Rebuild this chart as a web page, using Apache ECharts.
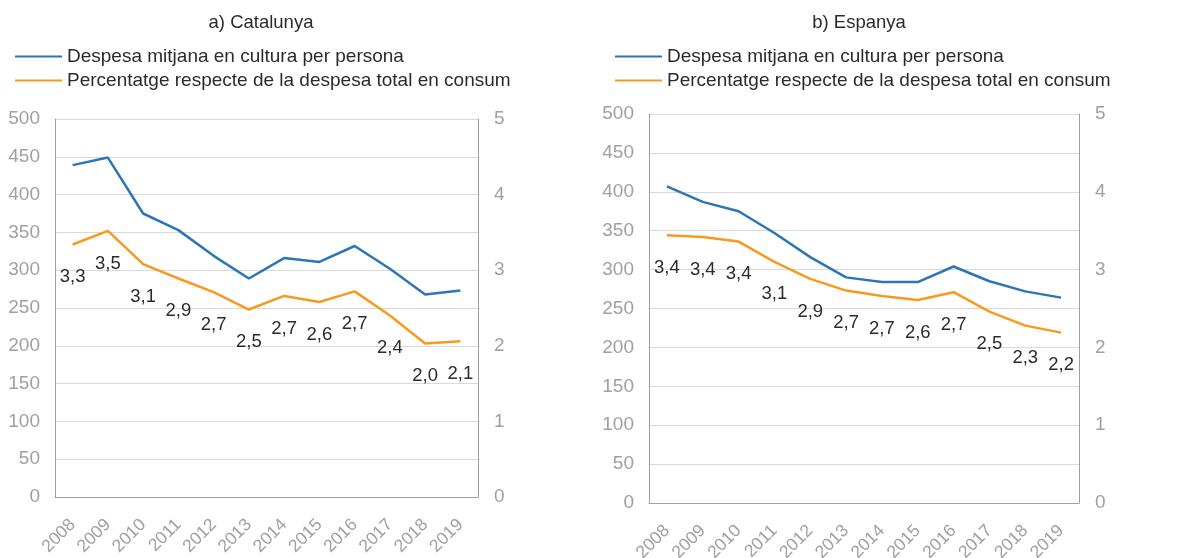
<!DOCTYPE html>
<html>
<head>
<meta charset="utf-8">
<script src="https://cdn.jsdelivr.net/npm/echarts@6/dist/echarts.min.js"></script>
<style>
  html, body { margin: 0; padding: 0; background: #fff; }
  #main { width: 1179px; height: 558px; }
</style>
</head>
<body>
<div id="main"></div>
<script>
var years = ["2008", "2009", "2010", "2011", "2012", "2013", "2014", "2015", "2016", "2017", "2018", "2019"];

// a) Catalunya
var catDespesa = [439, 449, 375, 353, 319, 289, 316, 311, 332, 302, 268, 273];
var catPercent = [3.34, 3.52, 3.08, 2.89, 2.71, 2.48, 2.66, 2.58, 2.72, 2.40, 2.03, 2.06];

// b) Espanya
var espDespesa = [407, 387, 375, 347, 316, 290, 284, 284, 304, 285, 272, 264];
var espPercent = [3.44, 3.42, 3.36, 3.10, 2.88, 2.73, 2.66, 2.61, 2.71, 2.46, 2.28, 2.19];

var nameDespesa = "Despesa mitjana en cultura per persona";
var namePercent = "Percentatge respecte de la despesa total en consum";

var FONT = "Liberation Sans, Arial, sans-serif";
var GREY = "#a0a0a0";
var BLUE = "#2e75b6";
var ORANGE = "#f79a1e";

function xAxisFor(gi) {
  return {
    type: "category",
    gridIndex: gi,
    data: years,
    boundaryGap: true,
    axisLine: { lineStyle: { color: GREY } },
    axisTick: { show: false },
    axisLabel: { rotate: 45, margin: 25, color: GREY, fontSize: 17.5, fontFamily: FONT, interval: 0 }
  };
}

function yAxesFor(gi) {
  return [
    {
      type: "value", gridIndex: gi, min: 0, max: 500, interval: 50,
      axisLine: { show: true, lineStyle: { color: GREY } },
      axisTick: { show: false },
      splitLine: { lineStyle: { color: "#d9d9d9" } },
      axisLabel: { color: GREY, fontSize: 19, fontFamily: FONT, margin: 15 }
    },
    {
      type: "value", gridIndex: gi, position: "right", min: 0, max: 5, interval: 1,
      axisLine: { show: true, lineStyle: { color: GREY } },
      axisTick: { show: false },
      splitLine: { show: false },
      axisLabel: { color: GREY, fontSize: 19, fontFamily: FONT, margin: 16 }
    }
  ];
}

function seriesFor(gi, despesa, percent) {
  return [
    {
      name: nameDespesa, type: "line", xAxisIndex: gi, yAxisIndex: gi * 2,
      data: despesa, showSymbol: false, lineStyle: { width: 2.5, color: BLUE }, itemStyle: { color: BLUE }
    },
    {
      name: namePercent, type: "line", xAxisIndex: gi, yAxisIndex: gi * 2 + 1,
      data: percent, showSymbol: true, symbol: "circle", symbolSize: 0.1,
      lineStyle: { width: 2.5, color: ORANGE }, itemStyle: { color: ORANGE },
      label: {
        show: true, position: "bottom", distance: 23,
        color: "#2b2b2b", fontSize: 18.5, fontFamily: FONT,
        formatter: function (p) { return p.value.toFixed(1).replace(".", ","); }
      }
    }
  ];
}

function legendFor(left) {
  return {
    orient: "vertical", left: left, top: 42, itemGap: 5,
    icon: "rect", itemWidth: 47, itemHeight: 2,
    textStyle: { color: "#2b2b2b", fontSize: 19, fontFamily: FONT, lineHeight: 19 },
    data: [nameDespesa, namePercent]
  };
}

var myChart = echarts.init(document.getElementById("main"));
var option = {
  animation: false,
  title: [
    { text: "a) Catalunya", left: 256, top: 8, textAlign: "center",
      textStyle: { color: "#2b2b2b", fontSize: 18.5, fontWeight: "normal", fontFamily: FONT } },
    { text: "b) Espanya", left: 854, top: 8, textAlign: "center",
      textStyle: { color: "#2b2b2b", fontSize: 18.5, fontWeight: "normal", fontFamily: FONT } }
  ],
  legend: [legendFor(10), legendFor(610)],
  grid: [
    { left: 55, top: 119, width: 423, height: 378, outerBoundsMode: "none" },
    { left: 649, top: 114, width: 430, height: 389, outerBoundsMode: "none" }
  ],
  xAxis: [xAxisFor(0), xAxisFor(1)],
  yAxis: yAxesFor(0).concat(yAxesFor(1)),
  series: seriesFor(0, catDespesa, catPercent).concat(seriesFor(1, espDespesa, espPercent))
};
myChart.setOption(option);
</script>
</body>
</html>
